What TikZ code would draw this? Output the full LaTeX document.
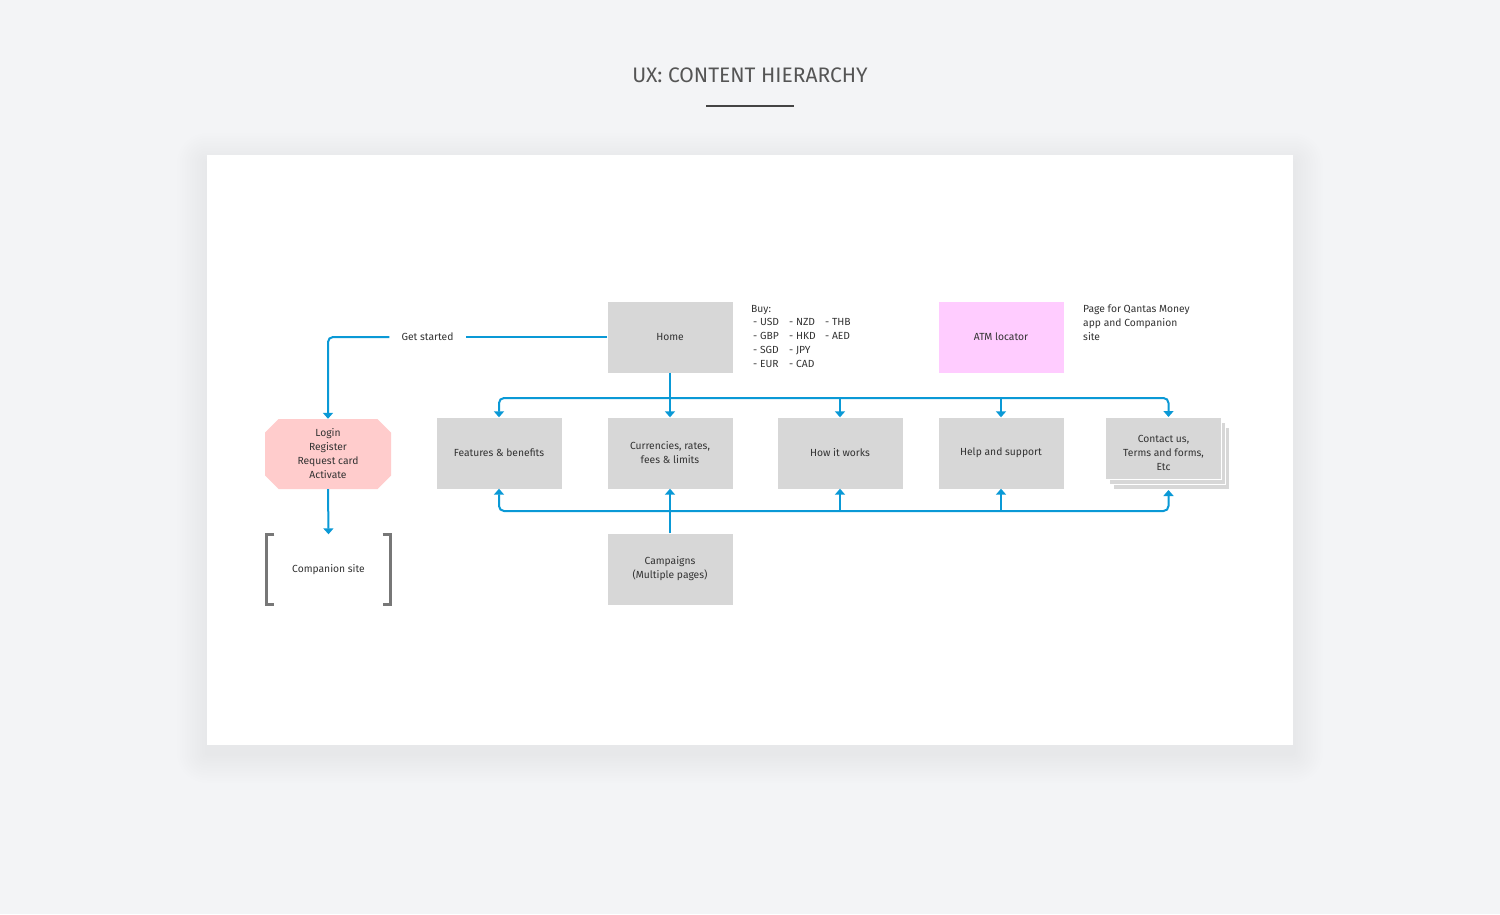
\documentclass[tikz,border=0pt]{standalone}
\usepackage{fontspec}
\setmainfont{Fira Sans}
\usetikzlibrary{positioning,arrows.meta,shapes.misc,shadows}

\definecolor{pagebg}{HTML}{F3F4F6}
\definecolor{boxgray}{HTML}{D7D7D7}
\definecolor{textgray}{HTML}{333333}
\definecolor{titlegray}{HTML}{555555}
\definecolor{flowblue}{HTML}{0A99D6}
\definecolor{loginpink}{HTML}{FFCCCC}
\definecolor{atmpink}{HTML}{FFCCFF}
\definecolor{bracketgray}{HTML}{777777}

\newcommand{\bodyfont}{\fontsize{10.3}{14}\selectfont}

\tikzset{
  flowtip/.tip={Triangle[width=10pt,length=6pt]},
  page/.style={rectangle, fill=boxgray, minimum width=125pt, minimum height=71pt,
    align=center, inner sep=2pt, text=textgray, font=\bodyfont},
  flow/.style={draw=flowblue, line width=2pt, -flowtip},
  bus/.style={flow, rounded corners=5pt, flowtip-flowtip},
  note/.style={anchor=north west, inner sep=0pt, align=left, text=textgray, font=\bodyfont},
  bracket/.style={draw=bracketgray, line width=2.6pt},
}

\begin{document}
\begin{tikzpicture}[x=1pt,y=-1pt]
    \fill[pagebg] (0,0) rectangle (1500,914);
    \useasboundingbox (0,0) rectangle (1500,914);
    % soft shadow of the sheet
    \foreach \s in {1,...,12}
      \fill[black, opacity=0.005, rounded corners=2.5*\s pt] (207-2.5*\s,155-2.5*\s+8) rectangle (1293+2.5*\s,745+2.5*\s+8);
    \fill[white] (207,155) rectangle (1293,745);

    % title
    \node[font=\fontsize{21}{25}\selectfont, text=titlegray] (title) at (750,75) {UX: CONTENT HIERARCHY};
    \coordinate (rule) at (750,106);
    \draw[line width=2pt, titlegray!80!black] (rule) ++(-44,0) -- ++(88,0);

    % pages
    \node[page] at (670,337) (home) {Home};
    \node[page, fill=atmpink] at (1001,337) (atm) {ATM locator};
    \node[page] at (499,453) (feat) {Features \& benefits};
    \node[page] at (670,453) (curr) {Currencies, rates,\\fees \& limits};
    \node[page] at (840,453) (how) {How it works};
    \node[page] at (1001,453) (help) {Help and support};
    \node[page, draw=white, line width=1pt, minimum width=116pt, minimum height=62pt,
      double copy shadow={shadow xshift=4pt, shadow yshift=-5pt, fill=boxgray, draw=white},
      label={[align=center, text=textgray, font=\bodyfont, yshift=-4.5pt]center:Contact us,\\Terms and forms,\\Etc}]
      at (1163.5,448.5) (contact) {};
    \node[page] at (670,569) (camp) {Campaigns\\(Multiple pages)};
    \node[page, chamfered rectangle, chamfered rectangle xsep=10pt, chamfered rectangle angle=45,
      fill=loginpink, minimum width=126pt, minimum height=70pt] at (328,454) (login) {Login\\Register\\Request card\\Activate};
    \node[minimum width=124pt, minimum height=70pt, text=textgray, font=\bodyfont] at (328.5,569.5) (companion) {Companion site};
    \draw[bracket] ([xshift=8pt]companion.north west) -- (companion.north west) -- (companion.south west) -- ++(8,0);
    \draw[bracket] ([xshift=-8pt]companion.north east) -- (companion.north east) -- (companion.south east) -- ++(-8,0);

    % notes
    \node[note] at (751,305) (buy) {Buy:\\[0pt]
      \hspace*{2pt}\begin{tabular}{@{}p{36pt}@{}p{36pt}@{}l@{}}
      - USD & - NZD & - THB\\
      - GBP & - HKD & - AED\\
      - SGD & - JPY & \\
      - EUR & - CAD &
      \end{tabular}};
    \node[note] at (1083,305) (atmnote) {Page for Qantas Money\\app and Companion\\site};

    % get started
    \node[text=textgray, font=\bodyfont, inner xsep=12pt] at (427.5,337) (start) {Get started};
    \draw[flow,-] (home.west) -- (start.east);
    \draw[flow, rounded corners=5pt] (start.west) -| (login.north);
    \draw[flow] (login.south) -- (companion.north);

    % top bus
    \coordinate (topbus) at (670,398);
    \draw[bus] (feat.north) |- (topbus) -| ([xshift=5pt]contact.north);
    \draw[flow] (home.south) -- (curr.north);
    \draw[flow] (how.north |- topbus) -- (how.north);
    \draw[flow] (help.north |- topbus) -- (help.north);

    % bottom bus
    \coordinate (botbus) at (670,511);
    \draw[bus] (feat.south) |- (botbus) -| ([shift={(5,10)}]contact.south);
    \draw[flow] (camp.north) -- (curr.south);
    \draw[flow] (how.south |- botbus) -- (how.south);
    \draw[flow] (help.south |- botbus) -- (help.south);
\end{tikzpicture}
\end{document}
